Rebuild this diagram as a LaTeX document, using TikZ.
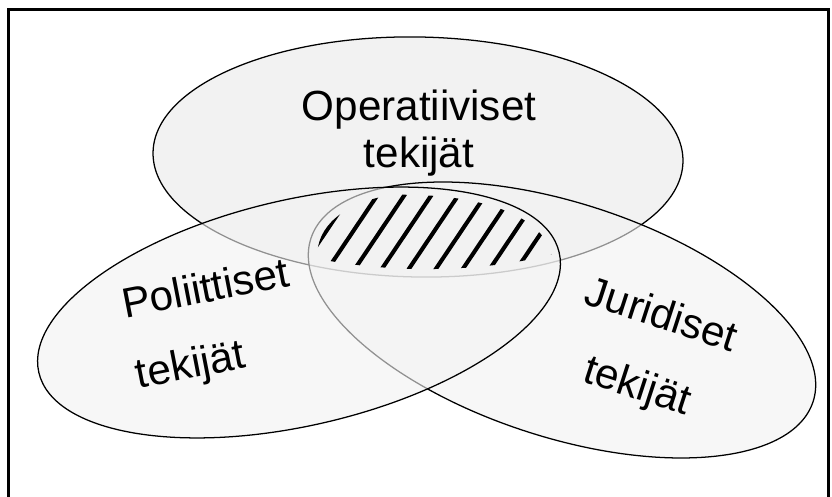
\documentclass[tikz,border=0pt]{standalone}
\usepackage{fontspec}
\setmainfont{Liberation Sans}
\begin{document}
\begin{tikzpicture}[x=0.025cm,y=0.025cm,
    venn/.style={draw=black,line width=0.9pt,fill=black!5},
    lbl/.style={inner sep=0pt,font=\fontsize{30}{51}\selectfont},
    hatch/.style={line width=2.9pt}]
  \useasboundingbox (0,0) rectangle (832,497);
  \draw[line width=2.2pt] (8.5,-10) -- (8.5,487.5) -- (828.5,487.5) -- (828.5,-10);
  \draw[venn,rotate around={-1:(418,340)}] (418,340) ellipse [x radius=265,y radius=120];
  \draw[venn,fill opacity=.6,rotate around={-18:(562,177)}] (562,177) ellipse [x radius=264,y radius=117];
  \draw[venn,fill opacity=.6,rotate around={13:(299,184.5)}] (299,184.5) ellipse [x radius=267,y radius=113];
  \begin{scope}
    \clip[rotate around={13:(299,184.5)}] (299,184.5) ellipse [x radius=259,y radius=105];
    \clip[rotate around={-18:(562,177)}] (562,177) ellipse [x radius=255,y radius=108];
    \clip[rotate around={-1:(418,340)}] (418,340) ellipse [x radius=257,y radius=112];
    \foreach \k in {-2,...,12}
      \draw[hatch] ({280+27*\k},197) -- ({374+27*\k},337);
  \end{scope}
  \node[lbl,align=center,font=\fontsize{30}{33}\selectfont] (O) at (419,364) {Operatiiviset\\tekijät};
  \node[lbl,align=left,rotate=11,anchor=north west] (P) at (119,209) {Poliittiset\\tekijät};
  \node[lbl,align=left,rotate=-18,anchor=north west,font=\fontsize{30}{53}\selectfont] (J) at (592,223) {Juridiset\\\hspace*{16pt}tekijät};
\end{tikzpicture}
\end{document}
